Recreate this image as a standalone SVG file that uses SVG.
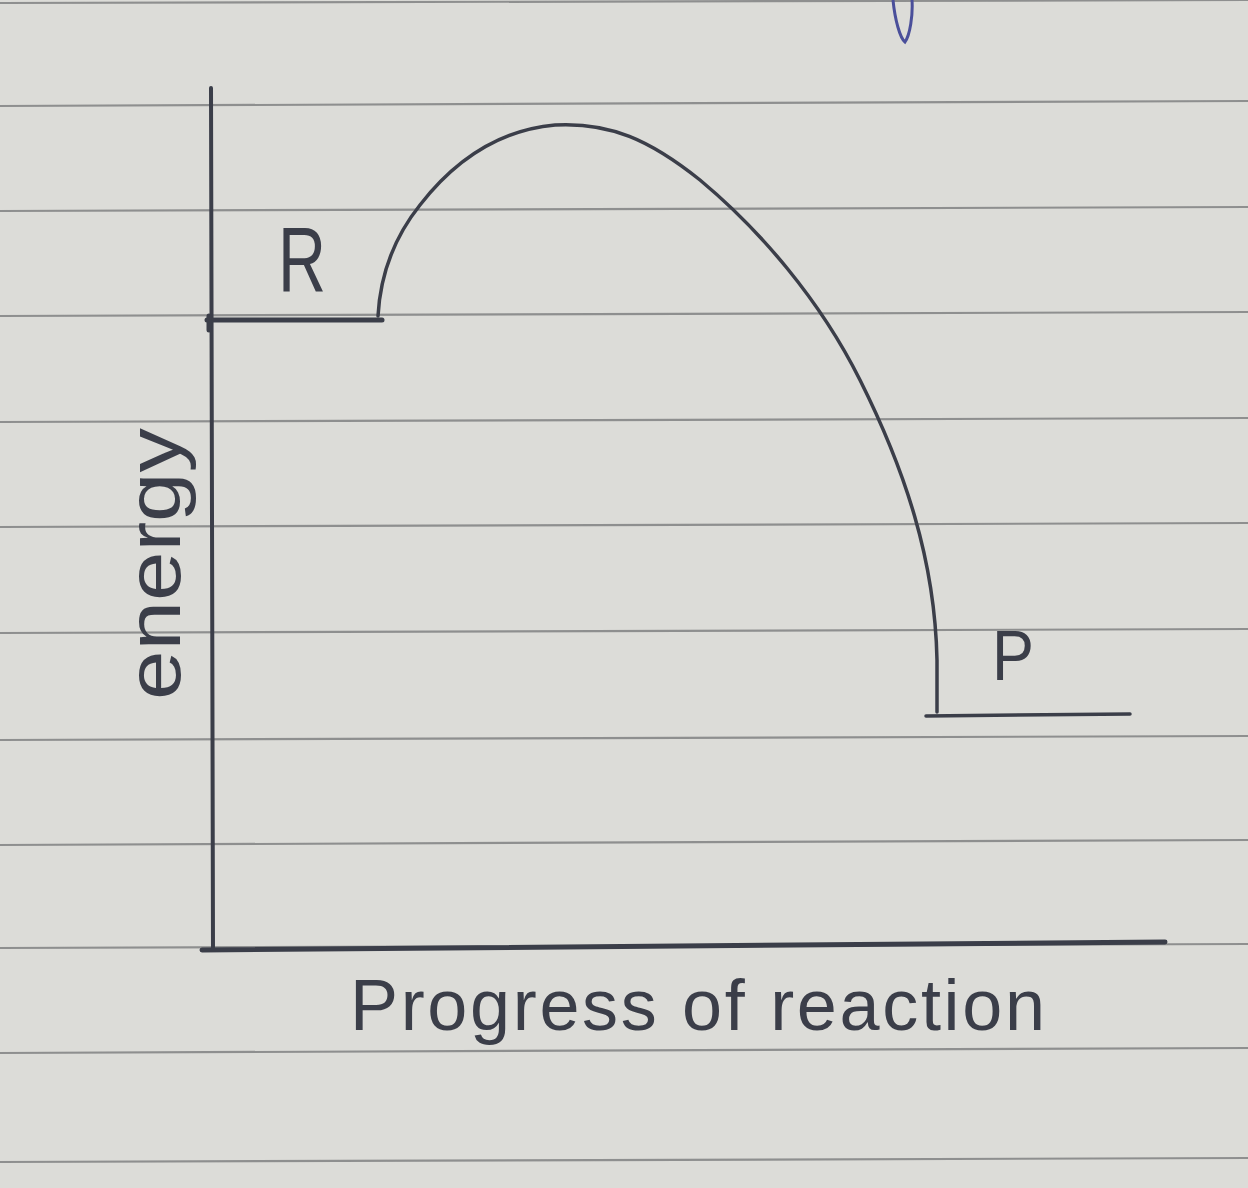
<svg xmlns="http://www.w3.org/2000/svg" width="1248" height="1188" viewBox="0 0 1248 1188">
<style>
.rule{stroke:#8e8f8f;stroke-width:2.2;fill:none}
.ink{stroke:#3b3e49;fill:none;stroke-linecap:round;stroke-linejoin:round}
.lbl{font-family:"Liberation Sans","DejaVu Sans",sans-serif;fill:#3b3e49}
</style>
<rect width="1248" height="1188" fill="#dcdcd8"/>
<g id="paper">
<path class="rule" d="M0 3 L1248 0"/>
<path class="rule" d="M0 106 L1248 101"/>
<path class="rule" d="M0 211 L1248 207"/>
<path class="rule" d="M0 316 L1248 312"/>
<path class="rule" d="M0 422 L1248 418"/>
<path class="rule" d="M0 527 L1248 523"/>
<path class="rule" d="M0 633 L1248 629"/>
<path class="rule" d="M0 740 L1248 736"/>
<path class="rule" d="M0 845 L1248 840"/>
<path class="rule" d="M0 948 L1248 944"/>
<path class="rule" d="M0 1053 L1248 1048"/>
<path class="rule" d="M0 1162 L1248 1158"/>
<path d="M893 0 C895 20 900 38 905 42 C910 35 913 15 912 0" stroke="#4a4f9a" stroke-width="3" fill="none"/>
</g>
<g id="connectors">
<path id="y-axis" class="ink" stroke-width="4" d="M211 88 L213 948"/>
<path id="x-axis" class="ink" stroke-width="5" d="M202 950 L1165 942"/>
<path id="curve" class="ink" stroke-width="3.5" d="M378 316 C380 280 392 240 420 205 C455 160 500 130 555 125 C610 122 650 140 700 180 C760 230 820 300 860 380 C905 470 935 560 937 660 L937 712"/>
</g>
<g id="node-R">
<path class="ink" stroke-width="5" d="M207 320 L382 320"/>
<path class="ink" stroke-width="5" d="M209 316 L209 330"/>
<text class="lbl" x="278" y="292" font-size="92" textLength="48" lengthAdjust="spacingAndGlyphs">R</text>
</g>
<g id="node-P">
<path class="ink" stroke-width="3.5" d="M926 716 L1130 714"/>
<text class="lbl" x="992" y="680" font-size="70" textLength="42" lengthAdjust="spacingAndGlyphs">P</text>
</g>
<g id="label-energy">
<text class="lbl" transform="translate(180 700) rotate(-90)" x="0" y="0" font-size="76" textLength="272" lengthAdjust="spacingAndGlyphs">energy</text>
</g>
<g id="label-progress">
<text class="lbl" x="350" y="1030" font-size="72" textLength="695" lengthAdjust="spacing">Progress of reaction</text>
</g>
</svg>
